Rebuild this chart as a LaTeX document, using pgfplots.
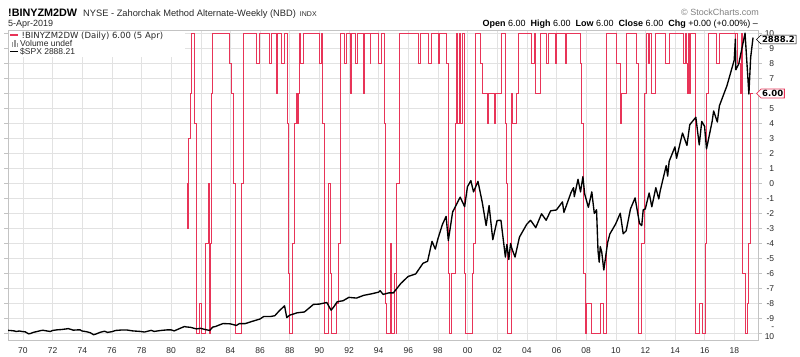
\documentclass[border=0pt]{standalone}
\usepackage{fontspec}
\setmainfont{Liberation Sans}
\newfontfamily\dejavu{DejaVu Sans}
\usepackage{pgfplots}
\usepackage{pgfplotstable}
\pgfplotsset{compat=1.18}
\usetikzlibrary{shapes.symbols}
\definecolor{zred}{RGB}{232,52,88}
\definecolor{gridc}{RGB}{226,226,226}
\definecolor{framec}{RGB}{195,195,195}
\definecolor{txt}{RGB}{40,40,40}

\pgfplotstableread{
yr val
1981.04 0
1981.10 -3
1981.16 3
1981.31 6
1981.38 10
1981.54 4
1981.67 -10
1981.90 -8
1982.06 -10
1982.33 -4
1982.51 0
1982.58 -10
1982.66 -4
1982.73 6
1982.80 10
1983.92 8
1984.08 6
1984.19 0
1984.31 -10
1984.75 0
1984.87 10
1985.72 8
1985.95 10
1986.62 8
1986.78 10
1987.07 6
1987.16 10
1987.45 8
1987.61 10
1987.84 4
1987.90 -6
1987.97 -10
1988.20 -4
1988.29 4
1988.42 6
1988.50 4
1988.58 6
1988.65 10
1988.73 8
1988.92 10
1990.00 8
1990.15 10
1990.22 4
1990.31 -10
1990.60 0
1990.72 -6
1990.83 -10
1991.17 -8
1991.28 -4
1991.39 10
1991.66 8
1991.79 10
1992.06 6
1992.13 10
1992.40 8
1992.56 10
1992.96 6
1993.03 10
1993.41 8
1993.47 10
1993.98 8
1994.16 10
1994.36 4
1994.43 -8
1994.52 -10
1994.81 -4
1994.88 -10
1995.03 -6
1995.17 -10
1995.21 0
1995.39 10
1996.67 8
1996.83 10
1997.35 8
1997.53 10
1998.02 8
1998.09 10
1998.54 8
1998.70 -6
1998.77 -10
1998.92 -6
1999.15 4
1999.22 10
1999.31 4
1999.44 10
1999.53 4
1999.67 10
1999.78 -6
1999.82 -10
2000.34 -6
2000.42 -4
2000.50 10
2000.88 8
2001.02 6
2001.33 4
2001.40 6
2001.78 4
2001.85 6
2002.30 10
2002.52 4
2002.64 0
2002.70 -10
2002.97 6
2003.04 4
2003.31 6
2003.42 10
2004.32 8
2004.48 10
2004.55 6
2004.89 10
2005.29 8
2005.45 10
2005.90 8
2006.01 10
2006.57 8
2006.68 10
2007.58 8
2007.70 4
2007.80 -6
2007.92 -10
2008.03 -8
2008.37 -10
2008.93 -8
2009.16 -10
2009.34 10
2010.06 8
2010.28 4
2010.36 6
2010.69 10
2011.41 8
2011.52 -10
2011.75 -4
2011.90 6
2012.04 10
2012.20 8
2012.28 10
2012.42 6
2012.65 10
2013.36 8
2013.60 10
2014.56 8
2014.67 10
2014.74 8
2014.83 6
2014.90 10
2014.98 6
2015.05 10
2015.34 -10
2015.64 -8
2015.86 -10
2016.02 -4
2016.13 6
2016.24 10
2016.81 8
2016.99 10
2018.04 8
2018.10 10
2018.20 8
2018.38 6
2018.45 10
2018.56 -6
2018.72 -10
2018.87 -8
2018.94 -4
2019.05 6
2019.26 6
}\zmdata

\pgfplotstableread{
yr spx
1969.00 103
1969.20 101
1969.40 98
1969.55 92
1969.75 97
1969.95 92
1970.15 89
1970.38 70
1970.50 73
1970.70 84
1970.95 92
1971.20 101
1971.35 104
1971.60 98
1971.85 92
1971.99 102
1972.30 108
1972.60 111
1972.99 118
1973.05 120
1973.40 105
1973.60 107
1973.85 108
1973.99 97
1974.30 90
1974.55 80
1974.76 62
1974.92 68
1975.20 84
1975.50 95
1975.70 84
1975.99 90
1976.25 102
1976.70 107
1976.99 107
1977.40 98
1977.90 93
1978.20 87
1978.65 103
1978.85 93
1979.30 102
1979.75 108
1979.99 108
1980.20 98
1980.60 122
1980.90 140
1981.00 136
1981.30 132
1981.70 117
1981.99 122
1982.30 111
1982.60 102
1982.80 134
1982.99 140
1983.50 168
1983.99 165
1984.40 150
1984.60 167
1984.99 167
1985.50 190
1985.99 211
1986.25 235
1986.70 235
1986.99 242
1987.30 290
1987.65 336
1987.80 224
1987.99 247
1988.50 270
1988.99 278
1989.60 350
1989.99 353
1990.50 368
1990.79 295
1990.99 330
1991.20 375
1991.60 385
1991.99 417
1992.50 410
1992.99 436
1993.50 450
1993.99 466
1994.10 480
1994.30 445
1994.70 460
1994.99 459
1995.50 550
1995.99 616
1996.50 640
1996.99 741
1997.30 760
1997.60 950
1997.82 876
1997.99 970
1998.30 1110
1998.55 1187
1998.70 957
1998.99 1229
1999.50 1370
1999.80 1280
1999.99 1469
2000.22 1527
2000.40 1420
2000.70 1520
2000.99 1320
2001.25 1100
2001.45 1290
2001.70 965
2001.99 1148
2002.25 1150
2002.55 800
2002.65 920
2002.78 777
2002.90 930
2002.99 880
2003.20 800
2003.50 990
2003.99 1112
2004.25 1150
2004.60 1080
2004.99 1212
2005.30 1150
2005.60 1240
2005.99 1248
2006.40 1325
2006.50 1225
2006.99 1418
2007.15 1460
2007.20 1375
2007.45 1540
2007.62 1420
2007.78 1565
2007.90 1400
2008.15 1273
2008.38 1420
2008.55 1215
2008.70 1250
2008.80 860
2008.88 752
2008.95 900
2009.05 850
2009.19 677
2009.45 940
2009.60 1020
2009.99 1115
2010.30 1217
2010.50 1022
2010.70 1050
2010.99 1258
2011.30 1363
2011.60 1120
2011.75 1099
2011.85 1250
2011.99 1258
2012.25 1410
2012.43 1278
2012.70 1460
2012.90 1353
2012.99 1426
2013.40 1670
2013.50 1570
2013.60 1710
2013.99 1848
2014.10 1740
2014.50 1980
2014.80 1862
2014.99 2059
2015.40 2130
2015.63 1867
2015.80 2090
2015.99 2044
2016.12 1829
2016.50 2090
2016.60 2190
2016.85 2085
2016.99 2239
2017.50 2430
2017.99 2674
2018.07 2873
2018.10 2581
2018.30 2640
2018.72 2930
2018.85 2640
2018.98 2351
2019.10 2700
2019.26 2888
}\spxdata

\begin{document}
\begin{tikzpicture}[x=1pt,y=1pt]
\path[use as bounding box] (0,0) rectangle (800,356);

\begin{axis}[
  at={(8pt,16pt)}, anchor=south west,
  scale only axis, width=750pt, height=309.5pt,
  xmin=1968.99, xmax=2019.595,
  ymin=-10.43, ymax=10.2,
  xtick={1970,1972,...,2018},
  xticklabels={70,72,74,76,78,80,82,84,86,88,90,92,94,96,98,00,02,04,06,08,10,12,14,16,18},
  ytick={-10,-9,...,10},
  yticklabels={-10,-9,-8,-7,-6,-5,-4,-3,-2,-1,0,1,2,3,4,5,6,7,8,9,10},
  yticklabel pos=right,
  grid=major,
  major grid style={gridc, line width=0.5pt},
  axis line style={framec, line width=0.6pt},
  tick align=outside,
  major tick length=4pt,
  xtick style={draw=none},
  ytick style={framec, line width=0.6pt},
  ticklabel style={font=\fontsize{8.5}{10}\selectfont, text=txt},
  yticklabel style={anchor=west, inner sep=0pt, text width=12pt, align=right},
  clip=true,
]
\addplot[const plot, zred, line width=0.75pt] table[x=yr,y=val]{\zmdata};
\end{axis}

\begin{axis}[
  at={(8pt,16pt)}, anchor=south west,
  scale only axis, width=750pt, height=309.5pt,
  xmin=1968.99, xmax=2019.595,
  ymin=11.4, ymax=2955,
  hide axis, clip=true,
]
\addplot[black, line width=1.35pt, line join=round] table[x=yr,y=spx]{\spxdata};
\end{axis}

% legend
\fill[white] (8.5,356-57) rectangle (185,356-31);
\draw[zred, line width=1.3pt] (10,356-35) -- (18,356-35);
\node[anchor=base west, inner sep=0pt, text=txt] at (21.5,356-38.3) {\dejavu\fontsize{8.5}{10}\selectfont !BINYZM2DW (Daily) 6.00 (5 Apr)};
\fill[gray!80] (11.5,356-47) rectangle (13,356-42);
\fill[gray!80] (14,356-47) rectangle (15.5,356-40.5);
\fill[gray!80] (16.5,356-47) rectangle (18,356-43.5);
\node[anchor=base west, inner sep=0pt, text=txt] at (20,356-46.7) {\fontsize{8.5}{10}\selectfont Volume undef};
\draw[black, line width=1.3pt] (10,356-51.5) -- (18,356-51.5);
\node[anchor=base west, inner sep=0pt, text=txt] at (20,356-55) {\fontsize{8.5}{10}\selectfont \$SPX 2888.21};

% titles
\node[anchor=base west, inner sep=0pt] at (8,356-16.7) {\fontsize{10.8}{12}\selectfont\bfseries !BINYZM2DW};
\node[anchor=base west, inner sep=0pt, text=txt] at (83,356-16.7) {\fontsize{9.3}{11}\selectfont NYSE - Zahorchak Method Alternate-Weekly (NBD)\hspace{4pt}{\fontsize{7}{8}\selectfont INDX}};
\node[anchor=base west, inner sep=0pt, text=txt] at (8,356-26.5) {\fontsize{9}{10}\selectfont 5-Apr-2019};
\node[anchor=base east, inner sep=0pt, text=gray] at (759,356-16) {\fontsize{9}{10}\selectfont © StockCharts.com};
\node[anchor=base east, inner sep=0pt] at (758,356-26.5) {\fontsize{9}{10}\selectfont \textbf{Open} 6.00\hspace{5pt}\textbf{High} 6.00\hspace{5pt}\textbf{Low} 6.00\hspace{5pt}\textbf{Close} 6.00\hspace{5pt}\textbf{Chg} +0.00 (+0.00\%) --};

% value tags
\node[signal, signal to=west, draw=black, fill=white, line width=0.6pt, inner sep=1.2pt, anchor=west, font=\dejavu\bfseries\fontsize{8.5}{10}\selectfont] at (756,356-39.5) {2888.2};
\node[signal, signal to=west, draw=zred, fill=white, line width=0.8pt, inner sep=1.2pt, anchor=west, font=\dejavu\bfseries\fontsize{8.5}{10}\selectfont] at (756,356-93.5) {6.00};
\end{tikzpicture}
\end{document}
